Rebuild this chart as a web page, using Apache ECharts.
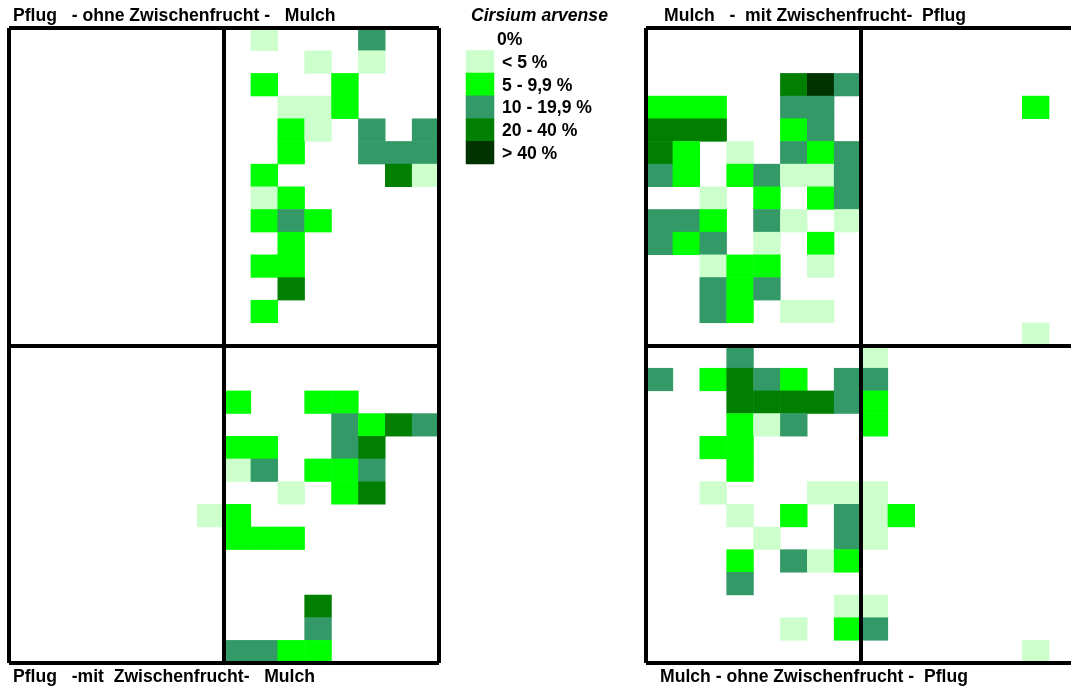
<!DOCTYPE html>
<html>
<head>
<meta charset="utf-8">
<title>Cirsium arvense</title>
<script src="https://cdn.jsdelivr.net/npm/echarts@6/dist/echarts.min.js"></script>
<style>
    html, body { margin: 0; padding: 0; background: #fff; overflow: hidden; }
    #wrap { width: 1071px; height: 688px; overflow: hidden; }
    /* rechtes Panel laeuft ueber den Bildrand hinaus */
    #main { width: 1085px; height: 688px; }
</style>
</head>
<body>
<div id="wrap"><div id="main"></div></div>
<script>
// Befallsklasse je Zelle: 0 = 0%, 1 = <5, 2 = 5-9,9, 3 = 10-19,9, 4 = 20-40, 5 = >40
const leftPlots = [
    [0,0,0,0,0,0,0,0,0,1,0,0,0,3,0,0],
    [0,0,0,0,0,0,0,0,0,0,0,1,0,1,0,0],
    [0,0,0,0,0,0,0,0,0,2,0,0,2,0,0,0],
    [0,0,0,0,0,0,0,0,0,0,1,1,2,0,0,0],
    [0,0,0,0,0,0,0,0,0,0,2,1,0,3,0,3],
    [0,0,0,0,0,0,0,0,0,0,2,0,0,3,3,3],
    [0,0,0,0,0,0,0,0,0,2,0,0,0,0,4,1],
    [0,0,0,0,0,0,0,0,0,1,2,0,0,0,0,0],
    [0,0,0,0,0,0,0,0,0,2,3,2,0,0,0,0],
    [0,0,0,0,0,0,0,0,0,0,2,0,0,0,0,0],
    [0,0,0,0,0,0,0,0,0,2,2,0,0,0,0,0],
    [0,0,0,0,0,0,0,0,0,0,4,0,0,0,0,0],
    [0,0,0,0,0,0,0,0,0,2,0,0,0,0,0,0],
    [0,0,0,0,0,0,0,0,0,0,0,0,0,0,0,0],
    [0,0,0,0,0,0,0,0,0,0,0,0,0,0,0,0],
    [0,0,0,0,0,0,0,0,0,0,0,0,0,0,0,0],
    [0,0,0,0,0,0,0,0,2,0,0,2,2,0,0,0],
    [0,0,0,0,0,0,0,0,0,0,0,0,3,2,4,3],
    [0,0,0,0,0,0,0,0,2,2,0,0,3,4,0,0],
    [0,0,0,0,0,0,0,0,1,3,0,2,2,3,0,0],
    [0,0,0,0,0,0,0,0,0,0,1,0,2,4,0,0],
    [0,0,0,0,0,0,0,1,2,0,0,0,0,0,0,0],
    [0,0,0,0,0,0,0,0,2,2,2,0,0,0,0,0],
    [0,0,0,0,0,0,0,0,0,0,0,0,0,0,0,0],
    [0,0,0,0,0,0,0,0,0,0,0,0,0,0,0,0],
    [0,0,0,0,0,0,0,0,0,0,0,4,0,0,0,0],
    [0,0,0,0,0,0,0,0,0,0,0,3,0,0,0,0],
    [0,0,0,0,0,0,0,0,3,3,2,2,0,0,0,0]
];
const rightPlots = [
    [0,0,0,0,0,0,0,0,0,0,0,0,0,0,0,0],
    [0,0,0,0,0,0,0,0,0,0,0,0,0,0,0,0],
    [0,0,0,0,0,4,5,3,0,0,0,0,0,0,0,0],
    [2,2,2,0,0,3,3,0,0,0,0,0,0,0,2,0],
    [4,4,4,0,0,2,3,0,0,0,0,0,0,0,0,0],
    [4,2,0,1,0,3,2,3,0,0,0,0,0,0,0,0],
    [3,2,0,2,3,1,1,3,0,0,0,0,0,0,0,0],
    [0,0,1,0,2,0,2,3,0,0,0,0,0,0,0,0],
    [3,3,2,0,3,1,0,1,0,0,0,0,0,0,0,0],
    [3,2,3,0,1,0,2,0,0,0,0,0,0,0,0,0],
    [0,0,1,2,2,0,1,0,0,0,0,0,0,0,0,0],
    [0,0,3,2,3,0,0,0,0,0,0,0,0,0,0,0],
    [0,0,3,2,0,1,1,0,0,0,0,0,0,0,0,0],
    [0,0,0,0,0,0,0,0,0,0,0,0,0,0,1,0],
    [0,0,0,3,0,0,0,0,1,0,0,0,0,0,0,0],
    [3,0,2,4,3,2,0,3,3,0,0,0,0,0,0,0],
    [0,0,0,4,4,4,4,3,2,0,0,0,0,0,0,0],
    [0,0,0,2,1,3,0,0,2,0,0,0,0,0,0,0],
    [0,0,2,2,0,0,0,0,0,0,0,0,0,0,0,0],
    [0,0,0,2,0,0,0,0,0,0,0,0,0,0,0,0],
    [0,0,1,0,0,0,1,1,1,0,0,0,0,0,0,0],
    [0,0,0,1,0,2,0,3,1,2,0,0,0,0,0,0],
    [0,0,0,0,1,0,0,3,1,0,0,0,0,0,0,0],
    [0,0,0,2,0,3,1,2,0,0,0,0,0,0,0,0],
    [0,0,0,3,0,0,0,0,0,0,0,0,0,0,0,0],
    [0,0,0,0,0,0,0,1,1,0,0,0,0,0,0,0],
    [0,0,0,0,0,1,0,2,3,0,0,0,0,0,0,0],
    [0,0,0,0,0,0,0,0,0,0,0,0,0,0,1,0]
];
const classColors = ['#ffffff', '#ccffcc', '#00ff00', '#339966', '#007f00', '#003300'];
const classLabels = ['0%', '< 5 %', '5 - 9,9 %', '10 - 19,9 %', '20 - 40 %', '> 40 %'];
const speciesName = 'Cirsium arvense';
const panelTitles = [
    'Pflug   - ohne Zwischenfrucht -   Mulch',
    'Mulch   -  mit Zwischenfrucht-  Pflug',
    'Pflug   -mit  Zwischenfrucht-   Mulch',
    'Mulch - ohne Zwischenfrucht -  Pflug'
];

const font = '"Liberation Sans", Arial, sans-serif';
const fontSize = 17.6;
const titleStyle = { fontFamily: font, fontSize: fontSize, fontWeight: 'bold', color: '#000' };
const legendText = { fontFamily: font, fontSize: fontSize, fontWeight: 'bold', color: '#000' };

function toCells(rows) {
    let cells = [];
    rows.forEach(function (row, r) {
        row.forEach(function (v, c) {
            if (v > 0) {
                cells.push({ value: [c, r, v], itemStyle: { color: classColors[v] } });
            }
        });
    });
    return cells;
}

function indexList(n) {
    return Array.from({ length: n }, function (_, i) { return i; });
}

// je Panel: Kategorieachsen fuer die Zellen, Wertachsen nur fuer die schwarzen Linien obendrauf
function hiddenCategory(n, inverse) {
    return { type: 'category', data: indexList(n), inverse: inverse, show: false };
}
function frameAxis(max, interval, gridIndex) {
    return {
        type: 'value', gridIndex: gridIndex, min: 0, max: max, interval: interval, z: 5,
        axisLine: { show: false }, axisTick: { show: false }, axisLabel: { show: false },
        splitLine: { show: true, lineStyle: { color: '#000', width: 4 } }
    };
}

const grids = [
    { left: 9, top: 28, width: 430, height: 635 },
    { left: 646, top: 28, width: 430, height: 635 },
    { left: 466, top: 27.5, width: 28, height: 136.5 }
];

let option = {
    animation: false,
    backgroundColor: '#fff',
    title: [
        { text: panelTitles[0], left: 13, top: 7, padding: 0, textStyle: titleStyle },
        { text: panelTitles[1], left: 664, top: 7, padding: 0, textStyle: titleStyle },
        { text: panelTitles[2], left: 13, top: 668, padding: 0, textStyle: titleStyle },
        { text: panelTitles[3], left: 660, top: 668, padding: 0, textStyle: titleStyle },
        { text: speciesName, left: 471, top: 7, padding: 0, textStyle: Object.assign({}, titleStyle, { fontStyle: 'italic' }) }
    ],
    grid: grids,
    xAxis: [
        Object.assign(hiddenCategory(16, false), { gridIndex: 0 }),
        Object.assign(hiddenCategory(16, false), { gridIndex: 1 }),
        Object.assign(hiddenCategory(1, false), { gridIndex: 2 }),
        frameAxis(16, 8, 0),
        frameAxis(16, 8, 1)
    ],
    yAxis: [
        Object.assign(hiddenCategory(28, true), { gridIndex: 0 }),
        Object.assign(hiddenCategory(28, true), { gridIndex: 1 }),
        {
            // Legende: Zeilenbeschriftung als Achse
            type: 'category', gridIndex: 2, inverse: true, position: 'right',
            data: classLabels,
            axisLine: { show: false }, axisTick: { show: false },
            axisLabel: {
                margin: 3,
                formatter: function (v) {
                    return (v === classLabels[0] ? '{z|' : '{s|') + v + '}';
                },
                rich: {
                    z: Object.assign({ padding: [3, 0, 0, 0] }, legendText),
                    s: Object.assign({ padding: [3, 0, 0, 5] }, legendText)
                }
            }
        },
        frameAxis(28, 14, 0),
        frameAxis(28, 14, 1)
    ],
    series: [
        { type: 'heatmap', xAxisIndex: 0, yAxisIndex: 0, data: toCells(leftPlots) },
        { type: 'heatmap', xAxisIndex: 1, yAxisIndex: 1, data: toCells(rightPlots) },
        {
            type: 'heatmap', xAxisIndex: 2, yAxisIndex: 2,
            data: classLabels.map(function (_, i) {
                return { value: [0, i, i], itemStyle: { color: classColors[i] } };
            })
        }
    ]
};

let chart = echarts.init(document.getElementById('main'));
chart.setOption(option);
window.addEventListener('resize', function () {
    chart.resize();
});
</script>
</body>
</html>
